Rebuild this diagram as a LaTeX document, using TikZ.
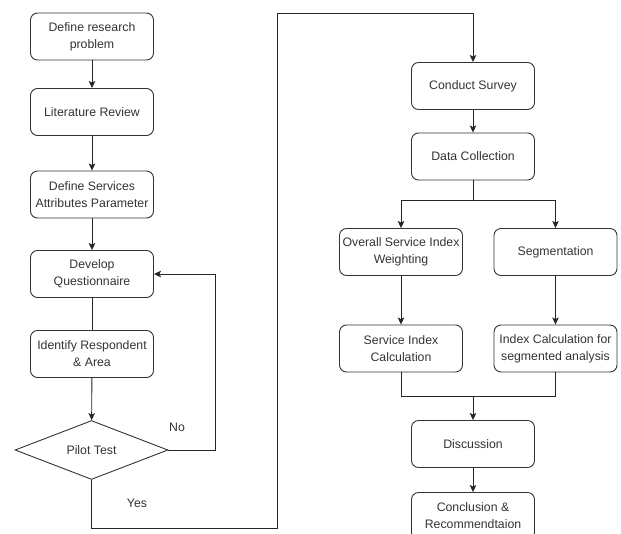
\documentclass[tikz,border=0pt]{standalone}
\usepackage{fontspec}
\setmainfont{Liberation Sans}
\usetikzlibrary{shapes.geometric}
\usetikzlibrary{arrows.meta}

\begin{document}
\begin{tikzpicture}[line join=miter, x={(1pt,0)}, y={(0,-1pt)},
  font=\fontsize{12.3}{17}\selectfont,
  stage/.style={draw=black!80, line width=0.9pt, rounded corners=7pt, minimum width=123pt, minimum height=47pt, inner sep=2pt, align=center, text=black!80},
  choice/.style={draw=black!80, line width=0.9pt, shape=diamond, minimum width=153pt, minimum height=46pt, inner sep=0pt, text=black!80},
  flow/.style={draw=black!85, line width=0.9pt},
  link/.style={flow, arrows=-{Stealth[length=7pt, width=6.5pt, inset=1.5pt]}}]
  \useasboundingbox (0,0) rectangle (621,533);
  % left column
  \node[stage] (define) at (92,36.5) {Define research\\problem};
  \node[stage] (litrev) at (92,112) {Literature Review};
  \node[stage] (attrib) at (92,194.5) {Define Services\\Attributes Parameter};
  \node[stage] (quest) at (92,274) {Develop\\Questionnaire};
  \node[stage] (resp) at (92,354) {Identify Respondent\\\& Area};
  \node[choice] (pilot) at (91.5,450) {Pilot Test};
  \node[text=black!80] (nolbl) at (177,427) {No};
  \node[text=black!80] (yeslbl) at (137,503) {Yes};
  % right column
  \node[stage] (survey) at (473,86) {Conduct Survey};
  \node[stage] (collect) at (473,156.5) {Data Collection};
  \node[stage] (overall) at (401,252) {Overall Service Index\\Weighting};
  \node[stage] (segment) at (555.5,252) {Segmentation};
  \node[stage] (sical) at (401,348.5) {Service Index\\Calculation};
  \node[stage] (segcal) at (555.5,348.5) {Index Calculation for\\segmented analysis};
  \node[stage] (discuss) at (473,444) {Discussion};
  \node[stage] (conclude) at (473,516) {Conclusion \&\\Recommendtaion};
  % bends
  \coordinate (ylow) at (277,528);
  \coordinate (yhigh) at (277,13);
  \coordinate (split) at (473,200);
  \coordinate (merge) at (473,396);
  \path[link] (define) -- (litrev);
  \path[link] (litrev) -- (attrib);
  \path[link] (attrib) -- (quest);
  \path[flow] (quest) -- (resp);
  \path[link] (resp) -- (pilot);
  \path[link] (pilot.east) -- ++(47,0) |- (quest.east);
  \path[link] (pilot.south) |- (ylow) -- (yhigh) -| (survey.north);
  \path[link] (survey) -- (collect);
  \path[flow] (collect) -- (split);
  \path[link] (split) -| (overall.north);
  \path[link] (split) -| (segment.north);
  \path[link] (overall) -- (sical);
  \path[link] (segment) -- (segcal);
  \path[flow] (sical.south) |- (merge);
  \path[flow] (segcal.south) |- (merge);
  \path[link] (merge) -- (discuss);
  \path[link] (discuss) -- (conclude);
\end{tikzpicture}
\end{document}
